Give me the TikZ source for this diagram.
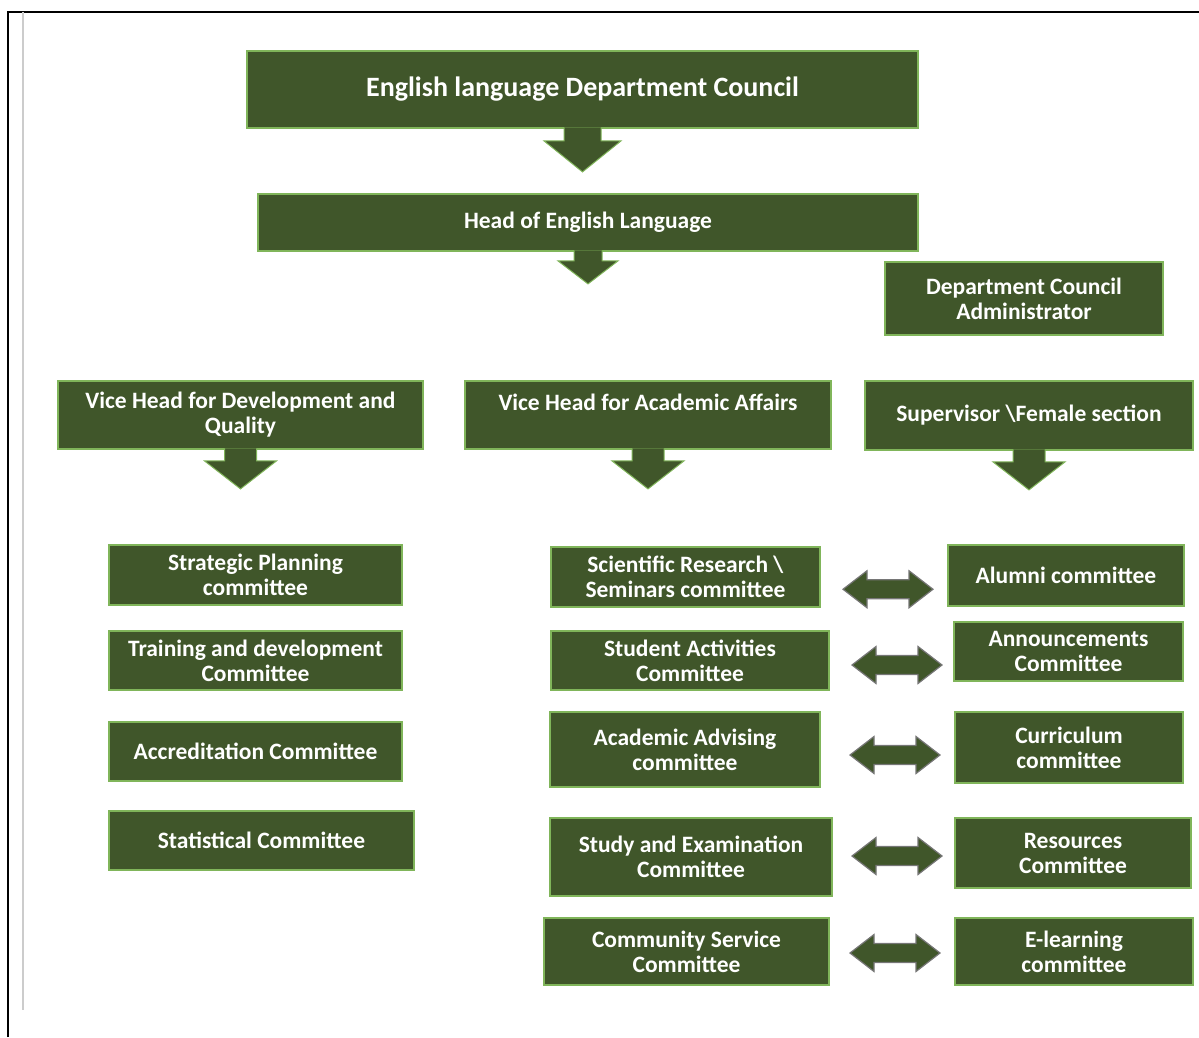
\documentclass[tikz,border=0pt]{standalone}
\usepackage{fontspec}
\setmainfont{Carlito}
\usepackage{tikz}
\usetikzlibrary{calc}
\definecolor{boxfill}{RGB}{64,86,42}
\definecolor{boxline}{RGB}{128,181,90}
\definecolor{dblline}{RGB}{118,118,118}
\tikzstyle{unit}=[draw=boxline,fill=boxfill,line width=1.8pt,text=white,align=center,inner sep=0pt,font=\fontsize{23.5}{25}\selectfont\bfseries]
\tikzstyle{bigunit}=[unit,font=\fontsize{28}{30}\selectfont\bfseries]
\tikzstyle{downa}=[draw=boxline,fill=boxfill,line width=1pt]
\tikzstyle{twoway}=[draw=dblline,fill=boxfill,line width=1.2pt]
\tikzstyle{frame}=[line width=2pt,black]

\begin{document}
\begin{tikzpicture}[x=1pt,y=-1pt]
	\useasboundingbox (0,0) rectangle (1199,1037);
	\draw[frame] (8,1037) -- (8,12) -- (1199,12);
	\draw[gray!40,line width=1.5pt] (23,12) -- (23,1010);

	% top of the chart
	\node[bigunit,minimum width=671,minimum height=77] (council) at (582.5,89.5) {English language Department Council};
	\node[unit,minimum width=660,minimum height=57] (head) at (588,222.5) {Head of English Language};
	\node[unit,minimum width=278,minimum height=73] (admin) at (1024,298.5) {Department Council\\Administrator};

	% vice heads
	\foreach \place/\name/\w/\h/\txt in {
	{(240.5,415)/vdev/365/68/{Vice Head for Development and\\Quality}},
	{(648,415)/vacad/366/68/{Vice Head for Academic Affairs\\~}},
	{(1029,415.5)/superv/328/69/{Supervisor \textbackslash Female section}}}
    \node[unit,minimum width=\w,minimum height=\h] (\name) at \place {\txt};

	% committees
	\foreach \place/\name/\w/\h/\txt in {
	{(255.5,575)/strat/293/60/{Strategic Planning\\committee}},
	{(255.5,660.5)/train/293/59/{Training and development\\Committee}},
	{(255.5,751.5)/accr/293/59/{Accreditation Committee}},
	{(261.5,840.5)/stat/305/59/{Statistical Committee}},
	{(685.5,577)/sci/269/60/{Scientific Research \textbackslash\\Seminars committee}},
	{(690,660.5)/stud/278/59/{Student Activities\\Committee}},
	{(685,749.5)/adv/270/75/{Academic Advising\\committee}},
	{(691,857)/study/282/78/{Study and Examination\\Committee}},
	{(686.5,951.5)/comm/285/67/{Community Service\\Committee}},
	{(1066,575.5)/alum/236/61/{Alumni committee}},
	{(1068.5,651.5)/ann/229/59/{Announcements\\Committee}},
	{(1069,747.5)/cur/228/71/{Curriculum\\committee}},
	{(1073,853)/res/236/70/{Resources\\Committee}},
	{(1074,951.5)/elearn/238/67/{E-learning\\committee}}}
    \node[unit,minimum width=\w,minimum height=\h] (\name) at \place {\txt};

	% block arrows going down
	\foreach \name/\sw/\hw/\stem/\hd in {council/18.5/38.5/12/31, head/14/30/9/23,
	vdev/16/36/11/28, vacad/16/36/11/28, superv/16/36/11/28}
	\draw[downa] ($(\name.south)+(-\sw,-1.5)$) -- ($(\name.south)+(-\sw,\stem)$)
	  -- ($(\name.south)+(-\hw,\stem)$) -- ($(\name.south)+(0,\stem+\hd)$)
	  -- ($(\name.south)+(\hw,\stem)$) -- ($(\name.south)+(\sw,\stem)$)
	  -- ($(\name.south)+(\sw,-1.5)$);

	% two way arrows
	\foreach \a/\b/\dx/\dy in {sci/alum/4/13, stud/ann/5.5/9, adv/cur/7.5/6.5,
	study/res/3.5/1, comm/elearn/3/1.5}
	\draw[twoway,shift={($(\a.east)!.5!(\b.west)+(\dx,\dy)$)}] (-45,0) -- (-21,-18.5)
	  -- (-21,-9.5) -- (21,-9.5) -- (21,-18.5) -- (45,0) -- (21,18.5) -- (21,9.5)
	  -- (-21,9.5) -- (-21,18.5) -- cycle;

\end{tikzpicture}
\end{document}
